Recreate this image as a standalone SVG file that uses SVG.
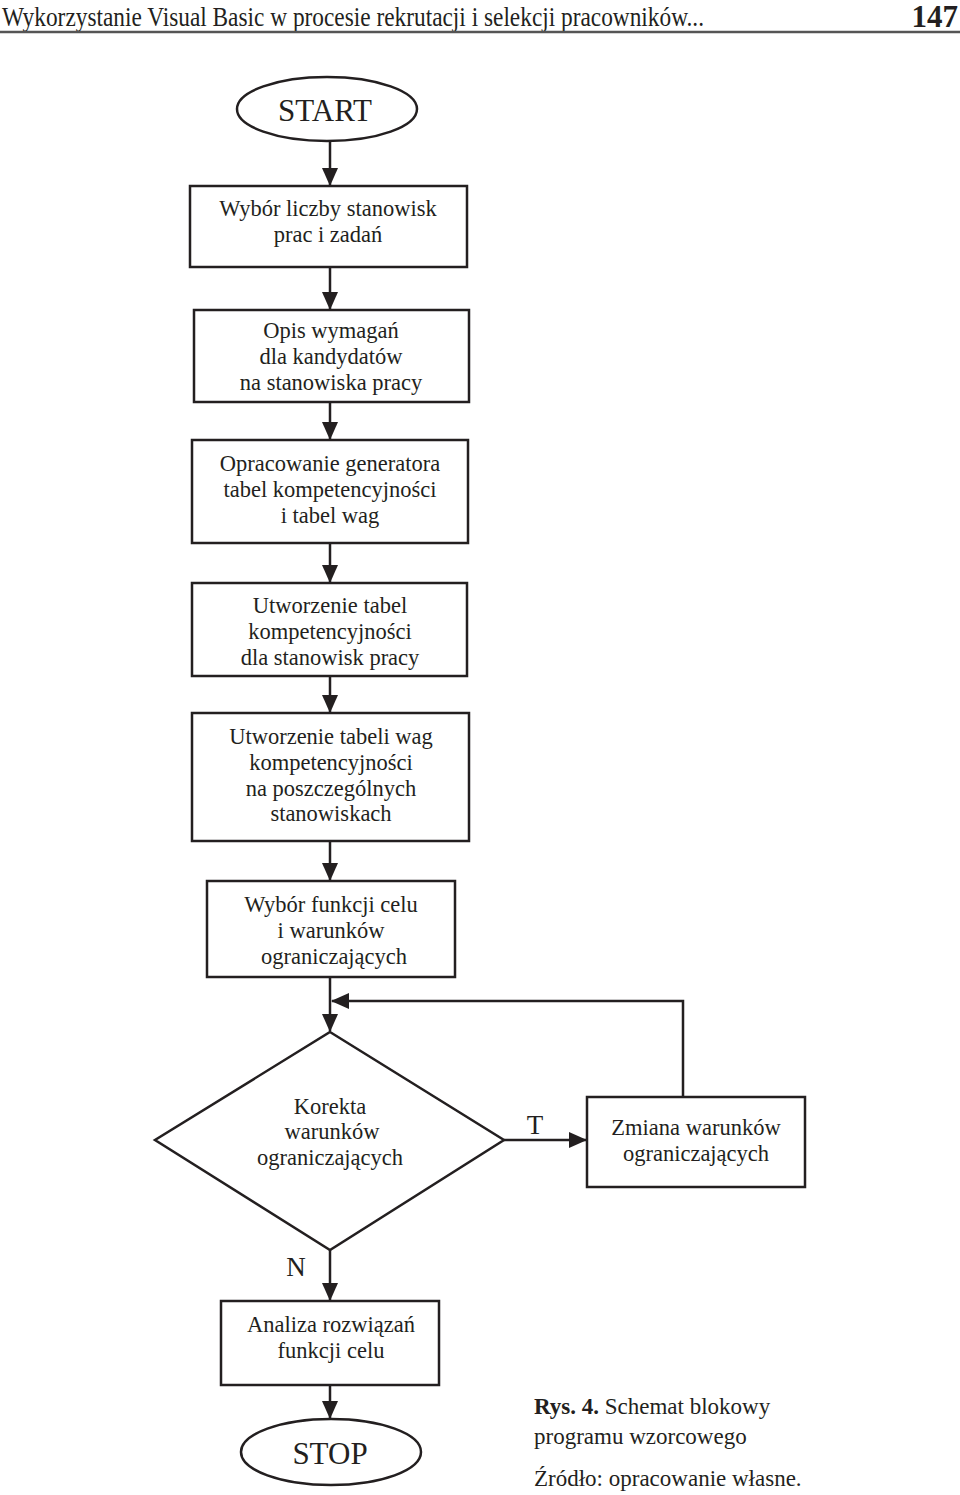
<svg xmlns="http://www.w3.org/2000/svg" width="960" height="1495" viewBox="0 0 960 1495">
<style>
text{font-family:"Liberation Serif","Times New Roman",serif;fill:#231f20;}
.t{font-size:22.5px;text-anchor:middle;}
.n{fill:#fff;stroke:#231f20;stroke-width:2.5;}
.c{fill:none;stroke:#231f20;stroke-width:2.5;}
</style>
<defs>
<marker id="ah" markerWidth="18" markerHeight="16" refX="17" refY="8" orient="auto" markerUnits="userSpaceOnUse" viewBox="0 0 18 16">
<path d="M0,0 L18,8 L0,16 Z" fill="#231f20"/>
</marker>
</defs>
<rect width="960" height="1495" fill="#fff"/>
<g id="header">
<text x="2" y="26" font-size="28" textLength="702" lengthAdjust="spacingAndGlyphs">Wykorzystanie Visual Basic w procesie rekrutacji i selekcji pracowników...</text>
<text x="958" y="27" font-size="31" font-weight="bold" text-anchor="end">147</text>
<line x1="0" y1="32" x2="960" y2="32" stroke="#555" stroke-width="2.5"/>
</g>
<g id="connectors">
<line class="c" x1="330" y1="141" x2="330" y2="185" marker-end="url(#ah)"/>
<line class="c" x1="330" y1="267" x2="330" y2="309" marker-end="url(#ah)"/>
<line class="c" x1="330" y1="402" x2="330" y2="439" marker-end="url(#ah)"/>
<line class="c" x1="330" y1="543" x2="330" y2="582" marker-end="url(#ah)"/>
<line class="c" x1="330" y1="676" x2="330" y2="712" marker-end="url(#ah)"/>
<line class="c" x1="330" y1="841" x2="330" y2="880" marker-end="url(#ah)"/>
<line class="c" x1="330" y1="977" x2="330" y2="1031" marker-end="url(#ah)"/>
<polyline class="c" points="683,1097 683,1001 332,1001" marker-end="url(#ah)"/>
<line class="c" x1="504" y1="1140" x2="586" y2="1140" marker-end="url(#ah)"/>
<line class="c" x1="330" y1="1250" x2="330" y2="1300" marker-end="url(#ah)"/>
<line class="c" x1="330" y1="1385" x2="330" y2="1418" marker-end="url(#ah)"/>
<text x="535" y="1134" font-size="27" text-anchor="middle">T</text>
<text x="296" y="1276" font-size="27" text-anchor="middle">N</text>
</g>
<g id="start">
<ellipse class="n" cx="327" cy="109" rx="90" ry="32"/>
<text x="325" y="121" font-size="31" text-anchor="middle">START</text>
</g>
<g id="n1">
<rect class="n" x="190" y="186" width="277" height="81"/>
<text class="t" x="328" y="216">Wybór liczby stanowisk</text>
<text class="t" x="328" y="242">prac i zadań</text>
</g>
<g id="n2">
<rect class="n" x="194" y="310" width="275" height="92"/>
<text class="t" x="331" y="338">Opis wymagań</text>
<text class="t" x="331" y="364">dla kandydatów</text>
<text class="t" x="331" y="390">na stanowiska pracy</text>
</g>
<g id="n3">
<rect class="n" x="192" y="440" width="276" height="103"/>
<text class="t" x="330" y="471">Opracowanie generatora</text>
<text class="t" x="330" y="497">tabel kompetencyjności</text>
<text class="t" x="330" y="523">i tabel wag</text>
</g>
<g id="n4">
<rect class="n" x="192" y="583" width="275" height="93"/>
<text class="t" x="330" y="613">Utworzenie tabel</text>
<text class="t" x="330" y="639">kompetencyjności</text>
<text class="t" x="330" y="665">dla stanowisk pracy</text>
</g>
<g id="n5">
<rect class="n" x="192" y="713" width="277" height="128"/>
<text class="t" x="331" y="744">Utworzenie tabeli wag</text>
<text class="t" x="331" y="770">kompetencyjności</text>
<text class="t" x="331" y="796">na poszczególnych</text>
<text class="t" x="331" y="821">stanowiskach</text>
</g>
<g id="n6">
<rect class="n" x="207" y="881" width="248" height="96"/>
<text class="t" x="331" y="912">Wybór funkcji celu</text>
<text class="t" x="331" y="938">i warunków</text>
<text class="t" x="334" y="964">ograniczających</text>
</g>
<g id="decision">
<polygon class="n" points="330,1032 504,1140 330,1250 155,1140"/>
<text class="t" x="330" y="1114">Korekta</text>
<text class="t" x="332" y="1139">warunków</text>
<text class="t" x="330" y="1165">ograniczających</text>
</g>
<g id="n7">
<rect class="n" x="587" y="1097" width="218" height="90"/>
<text class="t" x="696" y="1135">Zmiana warunków</text>
<text class="t" x="696" y="1161">ograniczających</text>
</g>
<g id="n8">
<rect class="n" x="221" y="1301" width="218" height="84"/>
<text class="t" x="331" y="1332">Analiza rozwiązań</text>
<text class="t" x="331" y="1358">funkcji celu</text>
</g>
<g id="stop">
<ellipse class="n" cx="331" cy="1452" rx="90" ry="33"/>
<text x="330" y="1464" font-size="31" text-anchor="middle">STOP</text>
</g>
<g id="caption">
<text x="534" y="1414" font-size="23"><tspan font-weight="bold">Rys. 4.</tspan> Schemat blokowy</text>
<text x="534" y="1444" font-size="23">programu wzorcowego</text>
<text x="534" y="1486" font-size="23">Źródło: opracowanie własne.</text>
</g>
</svg>
